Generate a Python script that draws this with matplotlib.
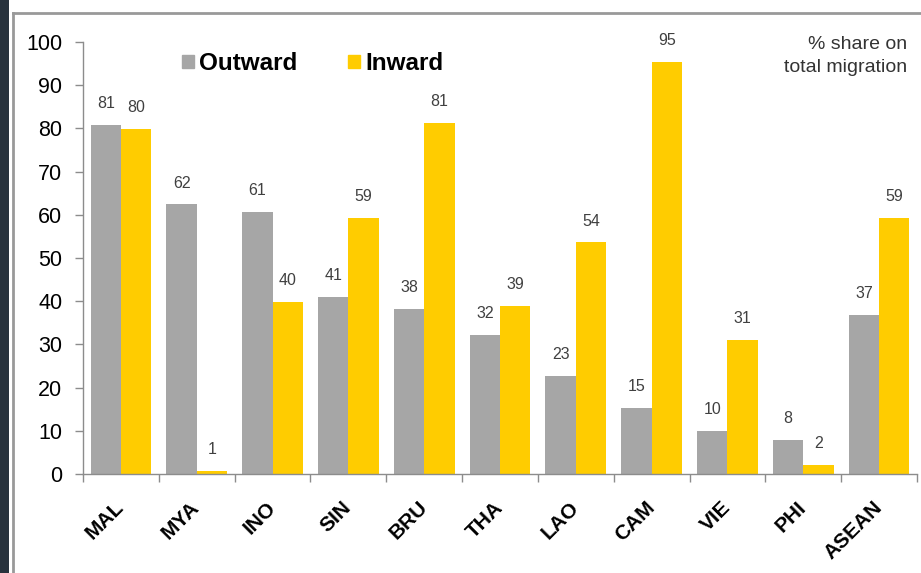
import matplotlib.pyplot as plt
from matplotlib.patches import Rectangle, Patch
from matplotlib.lines import Line2D
import numpy as np

plt.rcParams['font.family'] = ['Liberation Sans', 'DejaVu Sans']

# data
countries = ['MAL', 'MYA', 'INO', 'SIN', 'BRU', 'THA', 'LAO', 'CAM', 'VIE', 'PHI', 'ASEAN']
outward = [80.8, 62.4, 60.6, 41.0, 38.3, 32.2, 22.6, 15.2, 9.9, 7.9, 36.8]
inward = [79.8, 0.8, 39.8, 59.2, 81.2, 38.8, 53.6, 95.3, 31.0, 2.1, 59.3]

gray = '#A6A6A6'
yellow = '#FFCC00'
axis_col = '#8C8C8C'

fig = plt.figure(figsize=(9.21, 5.73), dpi=100)
fig.patch.set_facecolor('white')

# outer frame like the slide screenshot
fig.patches.append(Rectangle((0, 0), 9 / 921, 1, transform=fig.transFigure,
                             facecolor='#28323d', edgecolor='none', zorder=0))
fig.lines.append(Line2D([13 / 921, 13 / 921], [0, 1 - 13 / 573], transform=fig.transFigure,
                        color='#999999', lw=2))
fig.lines.append(Line2D([13 / 921, 1], [1 - 13 / 573, 1 - 13 / 573], transform=fig.transFigure,
                        color='#999999', lw=2))

ax = fig.add_axes([83 / 921, 99 / 573, 834 / 921, 432 / 573])

x = np.arange(len(countries))
w = 0.4
b1 = ax.bar(x - w / 2, outward, w, color=gray, label='Outward')
b2 = ax.bar(x + w / 2, inward, w, color=yellow, label='Inward')

for bars in (b1, b2):
    ax.bar_label(bars, labels=['%.0f' % v for v in bars.datavalues], padding=10,
                 fontsize=11.5, color='#404040')

ax.set_xlim(-0.5, len(countries) - 0.5)
ax.set_ylim(0, 100)
ax.set_yticks(range(0, 101, 10))
ax.tick_params(axis='y', labelsize=15.5, color=axis_col, length=6, width=1, pad=9)

ax.set_xticks(x)
ax.set_xticklabels(countries, rotation=45, ha='right', va='center', rotation_mode='anchor',
                   fontsize=15, fontweight='bold')
ax.tick_params(axis='x', length=0, pad=22)
ax.set_xticks(np.arange(-0.5, len(countries), 1), minor=True)
ax.tick_params(axis='x', which='minor', length=6, color=axis_col, width=1)

for s in ('top', 'right'):
    ax.spines[s].set_visible(False)
for s in ('left', 'bottom'):
    ax.spines[s].set_color(axis_col)
    ax.spines[s].set_linewidth(1)

handles = [Patch(color=gray), Patch(color=yellow)]
ax.legend(handles, ['Outward', 'Inward'], ncol=2, frameon=False, loc='center left',
          bbox_to_anchor=(0.092, 0.95), prop={'weight': 'bold', 'size': 17.5},
          handlelength=0.5, handleheight=0.5, handletextpad=0.2, columnspacing=2.1)

ax.text(0.988, 1.013, '% share on\ntotal migration', transform=ax.transAxes,
        ha='right', va='top', fontsize=14, color='#333333', linespacing=1.45)

fig.savefig('out.png', dpi=100)
